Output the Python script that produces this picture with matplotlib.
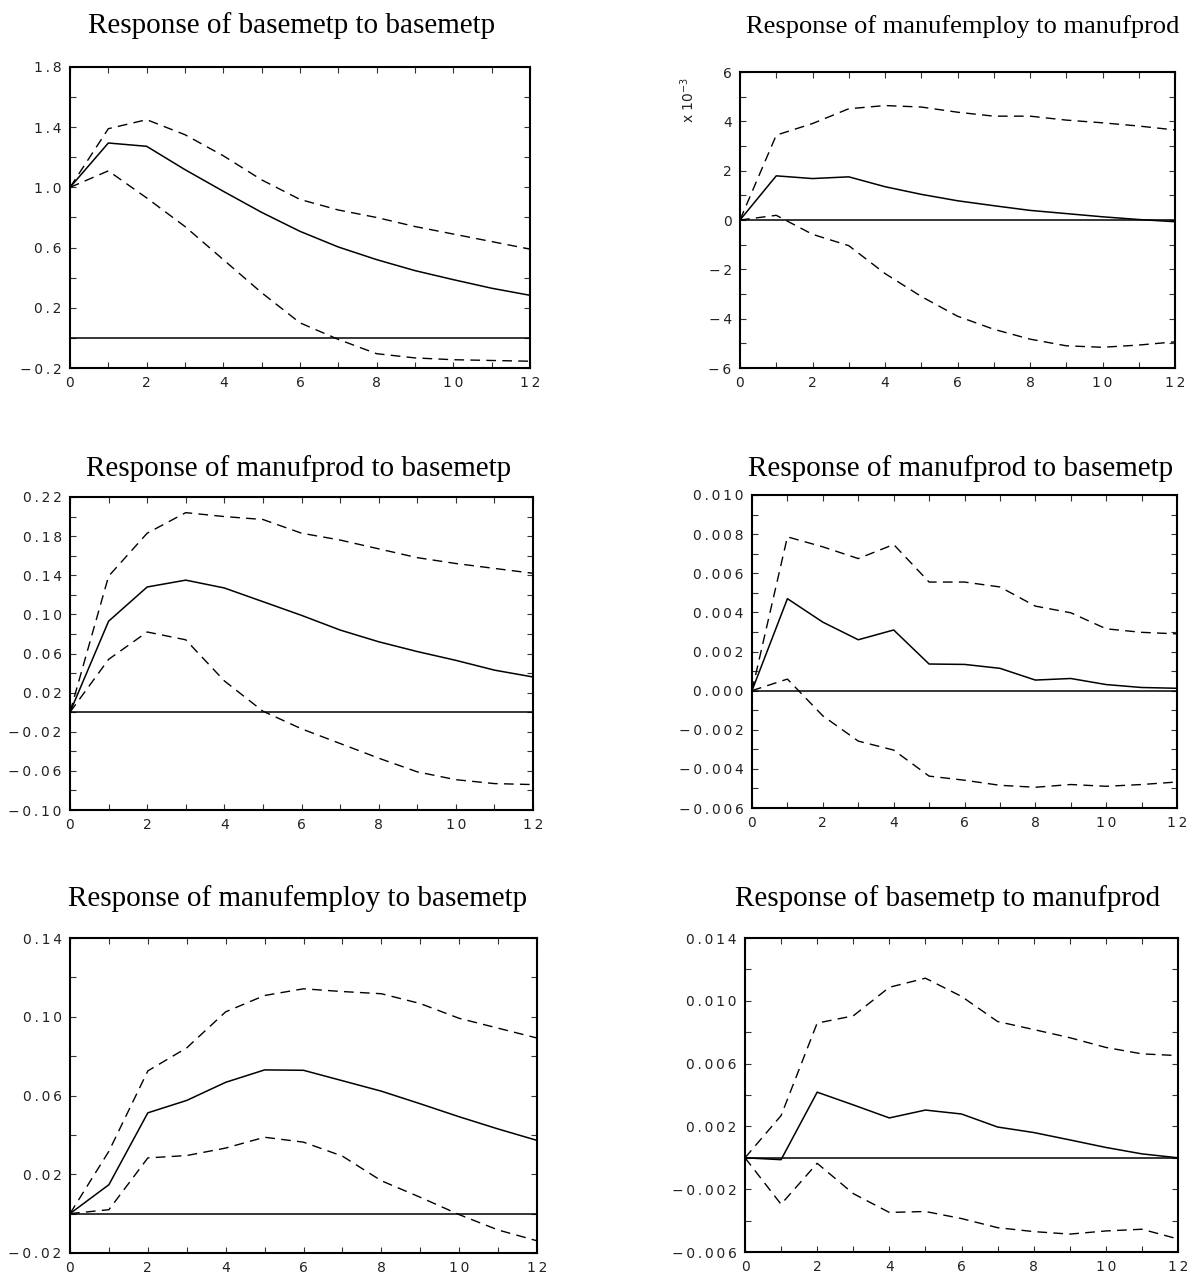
import numpy as np
import matplotlib
matplotlib.use("Agg")
import matplotlib.pyplot as plt
from matplotlib.ticker import MultipleLocator, FixedLocator

steps = list(range(13))

titles = [
    "Response of basemetp to basemetp",
    "Response of manufemploy to manufprod",
    "Response of manufprod to basemetp",
    "Response of manufprod to basemetp",
    "Response of manufemploy to basemetp",
    "Response of basemetp to manufprod",
]

# Panel 1: basemetp -> basemetp
p1_irf = [1.0, 1.295, 1.273, 1.118, 0.974, 0.834, 0.708, 0.604, 0.52, 0.447, 0.387, 0.33, 0.283]
p1_up = [1.0, 1.39, 1.45, 1.35, 1.21, 1.05, 0.92, 0.85, 0.80, 0.74, 0.69, 0.64, 0.59]
p1_lo = [1.0, 1.11, 0.93, 0.74, 0.52, 0.30, 0.10, -0.01, -0.105, -0.133, -0.145, -0.15, -0.155]

# Panel 2: manufemploy -> manufprod (units of 1e-3)
p2_irf = [0.0, 1.79, 1.68, 1.75, 1.35, 1.04, 0.78, 0.58, 0.39, 0.26, 0.13, 0.02, -0.07]
p2_up = [0.0, 3.44, 3.91, 4.51, 4.64, 4.58, 4.37, 4.21, 4.21, 4.05, 3.94, 3.81, 3.65]
p2_lo = [0.0, 0.19, -0.58, -1.04, -2.17, -3.1, -3.9, -4.43, -4.83, -5.1, -5.16, -5.07, -4.94]

# Panel 3: manufprod -> basemetp
p3_irf = [0.0, 0.093, 0.128, 0.135, 0.127, 0.113, 0.099, 0.084, 0.072, 0.062, 0.053, 0.043, 0.036]
p3_up = [0.0, 0.139, 0.183, 0.204, 0.200, 0.197, 0.183, 0.176, 0.167, 0.158, 0.152, 0.147, 0.142]
p3_lo = [0.0, 0.054, 0.082, 0.074, 0.032, 0.001, -0.017, -0.032, -0.047, -0.061, -0.069, -0.073, -0.074]

# Panel 4: manufprod -> basemetp
p4_irf = [0.0, 0.0047, 0.0035, 0.0026, 0.0031, 0.00136, 0.00134, 0.00114, 0.00054, 0.00062, 0.00031, 0.00016, 0.00012]
p4_up = [0.0, 0.00786, 0.00735, 0.00675, 0.00747, 0.00555, 0.00555, 0.0053, 0.00432, 0.00398, 0.00316, 0.00298, 0.0029]
p4_lo = [0.0, 0.00059, -0.00129, -0.00258, -0.00304, -0.00437, -0.00458, -0.00484, -0.00494, -0.0048, -0.00489, -0.0048, -0.00467]

# Panel 5: manufemploy -> basemetp
p5_irf = [0.0, 0.0147, 0.0512, 0.0575, 0.0667, 0.073, 0.0728, 0.0675, 0.0622, 0.0558, 0.0492, 0.043, 0.0372]
p5_up = [0.0, 0.0317, 0.0725, 0.0842, 0.1025, 0.1108, 0.1142, 0.1128, 0.1117, 0.1067, 0.0992, 0.0942, 0.0892]
p5_lo = [0.0, 0.002, 0.0283, 0.0295, 0.0333, 0.0388, 0.0363, 0.0292, 0.0167, 0.0083, -0.0005, -0.0083, -0.0138]

# Panel 6: basemetp -> manufprod
p6_irf = [0.0, -0.00012, 0.00418, 0.00337, 0.00254, 0.00304, 0.00279, 0.00196, 0.00161, 0.00114, 0.00066, 0.00025, 0.0]
p6_up = [0.0, 0.00269, 0.00858, 0.00904, 0.01086, 0.01144, 0.01028, 0.00868, 0.00817, 0.00765, 0.00703, 0.00662, 0.00651]
p6_lo = [0.0, -0.00296, -0.00035, -0.00228, -0.00348, -0.00342, -0.00387, -0.00445, -0.0047, -0.00486, -0.00466, -0.00455, -0.00517]

panels = [
    (p1_irf, p1_up, p1_lo),
    (p2_irf, p2_up, p2_lo),
    (p3_irf, p3_up, p3_lo),
    (p4_irf, p4_up, p4_lo),
    (p5_irf, p5_up, p5_lo),
    (p6_irf, p6_up, p6_lo),
]

# y-axis settings: (ymin, ymax, label step, minor step, format)
yset = [
    (-0.2, 1.8, 0.4, 0.2, "{:.1f}"),
    (-6, 6, 2, 1, "{:.0f}"),
    (-0.10, 0.22, 0.04, 0.02, "{:.2f}"),
    (-0.006, 0.010, 0.002, 0.001, "{:.3f}"),
    (-0.02, 0.14, 0.04, 0.02, "{:.2f}"),
    (-0.006, 0.014, 0.004, 0.002, "{:.3f}"),
]

W, H = 1202, 1284
# axes boxes in pixels: left, right, top, bottom
boxes = [
    (70, 530, 67, 368),
    (740, 1175, 72, 368),
    (70, 533, 497, 810),
    (752, 1177, 495, 808),
    (70, 537, 938, 1253),
    (745, 1178, 938, 1252),
]
title_base = [33, 33, 476, 476, 906, 906]
title_cx = [292, 963, 299, 961, 298, 948]
title_fs = [21, 19, 21, 21, 21, 21]

fig = plt.figure(figsize=(W / 100, H / 100), dpi=100)
fig.patch.set_facecolor("white")

tick_font = "DejaVu Sans"
title_font = "Liberation Serif"
TS = "\u2009"


def spaced(s):
    # the original uses wide letter spacing on tick labels
    return TS.join(list(s))


for i, ((irf, up, lo), (ymin, ymax, lstep, mstep, fmt), (l, r, t, b)) in enumerate(zip(panels, yset, boxes)):
    ax = fig.add_axes([l / W, 1 - b / H, (r - l) / W, (b - t) / H])
    ax.axhline(0, color="black", lw=1.1, zorder=2)
    ax.plot(steps, irf, color="black", lw=1.1, zorder=3)
    ax.plot(steps, up, color="black", lw=1.0, dashes=(7, 4.5), zorder=3)
    ax.plot(steps, lo, color="black", lw=1.0, dashes=(7, 4.5), zorder=3)
    ax.set_xlim(0, 12)
    ax.set_ylim(ymin, ymax)
    ax.xaxis.set_minor_locator(MultipleLocator(1))
    nlab = int(round((ymax - ymin) / lstep))
    labs = [ymin + k * lstep for k in range(nlab + 1)]
    nmin = int(round((ymax - ymin) / mstep))
    mins = [ymin + k * mstep for k in range(nmin + 1)]
    ax.yaxis.set_major_locator(FixedLocator(labs))
    ax.yaxis.set_minor_locator(FixedLocator(mins))
    ax.set_yticklabels([spaced(fmt.format(v).replace("-", "\u2212")) for v in labs])
    ax.set_xticks(range(0, 13, 2))
    ax.set_xticklabels([spaced(str(v)) for v in range(0, 13, 2)])
    ax.tick_params(which="both", direction="in", top=True, right=True,
                   length=4, width=0.8, color="#333333")
    ax.tick_params(axis="y", which="major", labelsize=10, pad=6, labelcolor="#222222")
    ax.tick_params(axis="x", which="major", labelsize=10, pad=5.5, labelcolor="#222222")
    for lab in ax.get_xticklabels() + ax.get_yticklabels():
        lab.set_fontfamily(tick_font)
    for sp in ax.spines.values():
        sp.set_linewidth(1.5)
    ax.set_facecolor("white")
    fig.text(title_cx[i] / W, 1 - title_base[i] / H, titles[i],
             ha="center", va="baseline", fontsize=title_fs[i], family=title_font)
    if i == 1:
        fig.text(688 / W, 1 - 100 / H, r"x $10^{-3}$", rotation=90,
                 ha="center", va="center", fontsize=10, family=tick_font, color="#222222")

fig.savefig("out.png", dpi=100, facecolor="white")
